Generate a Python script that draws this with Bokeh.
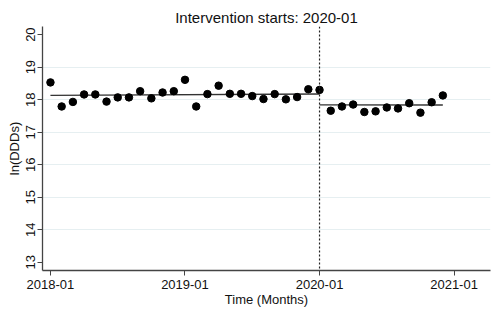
from bokeh.plotting import figure
from bokeh.models import Range1d, FixedTicker, Span
from bokeh.embed import file_html
from bokeh.resources import INLINE

# Month index (0 = 2018-01)
months = list(range(36))
values = [18.53, 17.79, 17.93, 18.16, 18.16, 17.94, 18.07, 18.07, 18.26, 18.04,
          18.22, 18.26, 18.61, 17.79, 18.17, 18.43, 18.18, 18.18, 18.11, 18.02,
          18.17, 18.01, 18.08, 18.32, 18.30,
          17.66, 17.79, 17.85, 17.62, 17.64, 17.76, 17.73, 17.89, 17.60, 17.92, 18.13]

pre_fit_x = [0, 24]
pre_fit_y = [18.13, 18.175]
post_fit_x = [24, 35]
post_fit_y = [17.84, 17.835]

intervention = 24
tick_pos = [0, 12, 24, 36]
tick_labels = ["2018-01", "2019-01", "2020-01", "2021-01"]
y_ticks = [13, 14, 15, 16, 17, 18, 19, 20]
grid_ticks = [14, 15, 16, 17, 18, 19]

FONT = "Liberation Sans"

p = figure(width=492, height=311, output_backend="svg", toolbar_location=None,
           x_range=Range1d(-0.71, 39.25), y_range=Range1d(12.745, 20.25),
           min_border_left=42, min_border_right=2, min_border_top=26, min_border_bottom=41,
           title="Intervention starts: 2020-01")

p.title.align = "center"
p.title.text_font = FONT
p.title.text_font_size = "15px"
p.title.text_font_style = "normal"
p.title.text_color = "#111111"
p.title.standoff = 1

p.outline_line_color = None
p.background_fill_color = "white"
p.border_fill_color = "white"

p.xgrid.visible = False
p.ygrid.ticker = FixedTicker(ticks=grid_ticks)
p.ygrid.grid_line_color = "#e6eff1"
p.ygrid.grid_line_width = 1

for ax in (p.xaxis[0], p.yaxis[0]):
    ax.axis_line_color = "#444444"
    ax.axis_line_width = 1.3
    ax.major_tick_line_color = "#444444"
    ax.major_tick_out = 5
    ax.major_tick_in = 0
    ax.minor_tick_out = 0
    ax.minor_tick_in = 0
    ax.major_label_text_font = FONT
    ax.major_label_text_font_size = "13px"
    ax.major_label_text_color = "#111111"
    ax.axis_label_text_font = FONT
    ax.axis_label_text_font_size = "13px"
    ax.axis_label_text_font_style = "normal"
    ax.axis_label_text_color = "#111111"

p.xaxis.ticker = FixedTicker(ticks=tick_pos)
p.xaxis.major_label_overrides = {t: l for t, l in zip(tick_pos, tick_labels)}
p.xaxis.axis_label = "Time (Months)"
p.xaxis.major_label_standoff = 4
p.xaxis.axis_label_standoff = 0

p.yaxis.ticker = FixedTicker(ticks=y_ticks)
p.yaxis.major_label_orientation = "vertical"
p.yaxis.axis_label = "ln(DDDs)"
p.yaxis.major_label_standoff = 2
p.yaxis.axis_label_standoff = 2

p.add_layout(Span(location=intervention, dimension="height", line_color="#222222",
                  line_dash="2 2", line_width=1.2))

p.line(pre_fit_x, pre_fit_y, line_color="#333333", line_width=1.4)
p.line(post_fit_x, post_fit_y, line_color="#333333", line_width=1.4)
p.scatter(months, values, size=7.5, marker="circle", fill_color="black", line_color="black")

open("out.html", "w").write(file_html(p, INLINE))
